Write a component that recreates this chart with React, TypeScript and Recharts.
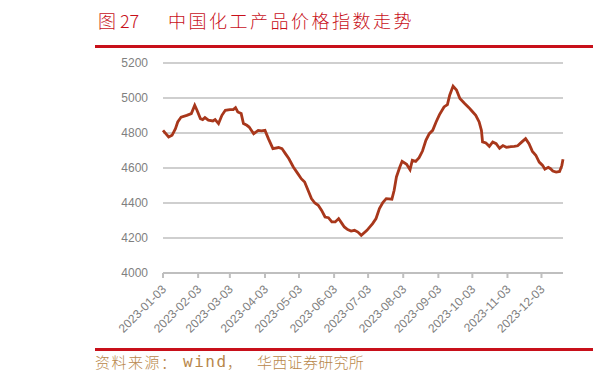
import { CartesianGrid, Line, LineChart, XAxis, YAxis } from "recharts";

// 中国化工产品价格指数 2023.

const dates = [
  "2023-01-03", "2023-01-08", "2023-01-11", "2023-01-14", "2023-01-16", "2023-01-19",
  "2023-01-24", "2023-01-28", "2023-01-31", "2023-02-02", "2023-02-05", "2023-02-07",
  "2023-02-09", "2023-02-12", "2023-02-16", "2023-02-18", "2023-02-21", "2023-02-24",
  "2023-02-27", "2023-03-03", "2023-03-06", "2023-03-08", "2023-03-10", "2023-03-13",
  "2023-03-15", "2023-03-18", "2023-03-20", "2023-03-24", "2023-03-28", "2023-03-31",
  "2023-04-03", "2023-04-06", "2023-04-10", "2023-04-15", "2023-04-18", "2023-04-21",
  "2023-04-24", "2023-04-28", "2023-05-02", "2023-05-05", "2023-05-08", "2023-05-11",
  "2023-05-14", "2023-05-17", "2023-05-20", "2023-05-23", "2023-05-26", "2023-05-29",
  "2023-06-01", "2023-06-04", "2023-06-07", "2023-06-10", "2023-06-12", "2023-06-15",
  "2023-06-18", "2023-06-21", "2023-06-24", "2023-06-27", "2023-07-02", "2023-07-04",
  "2023-07-07", "2023-07-10", "2023-07-13", "2023-07-16", "2023-07-19", "2023-07-24",
  "2023-07-26", "2023-07-28", "2023-07-31", "2023-08-02", "2023-08-06", "2023-08-09",
  "2023-08-11", "2023-08-14", "2023-08-17", "2023-08-20", "2023-08-23", "2023-08-26",
  "2023-08-29", "2023-09-01", "2023-09-04", "2023-09-08", "2023-09-11", "2023-09-13",
  "2023-09-16", "2023-09-19", "2023-09-22", "2023-09-26", "2023-09-30", "2023-10-02",
  "2023-10-06", "2023-10-09", "2023-10-11", "2023-10-12", "2023-10-15", "2023-10-18",
  "2023-10-21", "2023-10-24", "2023-10-27", "2023-10-30", "2023-11-02", "2023-11-06",
  "2023-11-09", "2023-11-12", "2023-11-15", "2023-11-19", "2023-11-22", "2023-11-25",
  "2023-11-28", "2023-12-01", "2023-12-04", "2023-12-06", "2023-12-09", "2023-12-11",
  "2023-12-13", "2023-12-16", "2023-12-19", "2023-12-21", "2023-12-22",
];

const indexValues = [
  4815, 4777, 4787, 4825, 4863, 4891,
  4901, 4911, 4958, 4930, 4882, 4877,
  4888, 4873, 4869, 4877, 4854, 4901,
  4930, 4934, 4934, 4945, 4920, 4911,
  4854, 4844, 4834, 4796, 4815, 4812,
  4815, 4768, 4711, 4717, 4711, 4682,
  4654, 4606, 4568, 4539, 4520, 4473,
  4425, 4400, 4387, 4358, 4320, 4316,
  4292, 4292, 4311, 4282, 4263, 4248,
  4240, 4244, 4234, 4215, 4244, 4259,
  4282, 4311, 4368, 4403, 4425, 4422,
  4473, 4549, 4606, 4638, 4621, 4590,
  4644, 4638, 4659, 4697, 4758, 4796,
  4815, 4863, 4905, 4949, 4962, 5016,
  5068, 5046, 4997, 4970, 4945, 4930,
  4901, 4863, 4815, 4749, 4743, 4724,
  4749, 4739, 4713, 4728, 4718, 4722,
  4724, 4727, 4745, 4768, 4739, 4695,
  4673, 4634, 4615, 4593, 4604, 4596,
  4583, 4577, 4580, 4615, 4650,
];

const xTickDates = [
  "2023-01-03", "2023-02-03", "2023-03-03", "2023-04-03", "2023-05-03", "2023-06-03",
  "2023-07-03", "2023-08-03", "2023-09-03", "2023-10-03", "2023-11-03", "2023-12-03",
];

const yTicks = [4000, 4200, 4400, 4600, 4800, 5000, 5200];

const data = dates.map((d, i) => ({ t: Date.parse(d), v: indexValues[i] }));
const xTicks = xTickDates.map((d) => Date.parse(d));

const fmtDate = (t: number) => new Date(t).toISOString().slice(0, 10);

const CJK = "'Noto Sans CJK SC', sans-serif";
const RED = "#c8101a";
const GOLD = "#b8874a";

function DateTick(props: any) {
  const { x, y, payload } = props;
  const tx = x + 4;
  const ty = y + 10;
  return (
    <text
      x={tx}
      y={ty}
      transform={`rotate(-45, ${tx}, ${ty})`}
      textAnchor="end"
      fontSize={12}
      fill="#7f7f7f"
      fontFamily="'Liberation Sans', Arial, sans-serif"
    >
      {fmtDate(payload.value)}
    </text>
  );
}

const abs = (left: number, top: number) => ({ position: "absolute" as const, left, top, whiteSpace: "pre" as const });

export default function App() {
  return (
    <div style={{ position: "absolute", left: 0, top: 0, width: 597, height: 382, background: "#fff" }}>
      {/* title */}
      <div style={{ ...abs(98, 8), fontSize: 18, fontWeight: 300, color: RED, fontFamily: CJK, lineHeight: "24px" }}>
        图 27
      </div>
      <div
        style={{
          ...abs(168, 8),
          fontSize: 18,
          fontWeight: 300,
          color: RED,
          fontFamily: CJK,
          lineHeight: "24px",
          letterSpacing: 2.5,
        }}
      >
        中国化工产品价格指数走势
      </div>
      <div style={{ position: "absolute", left: 95, top: 45, width: 498, height: 3, background: RED }} />

      <div style={{ position: "absolute", left: 0, top: 0 }}>
        <LineChart width={597} height={345} data={data} margin={{ top: 63, right: 34, left: 103, bottom: 12 }}>
          <CartesianGrid vertical={false} stroke="#bfbfbf" strokeWidth={1.5} />
          <XAxis
            dataKey="t"
            type="number"
            scale="time"
            domain={["dataMin", "dataMax"]}
            ticks={xTicks}
            tick={<DateTick />}
            interval={0}
            height={60}
            stroke="#bfbfbf"
            strokeWidth={2}
            tickSize={5}
          />
          <YAxis
            type="number"
            domain={[4000, 5200]}
            ticks={yTicks}
            width={60}
            axisLine={false}
            tickLine={false}
            tickSize={0}
            tickMargin={15}
            tick={{ fontSize: 12, fill: "#7f7f7f", fontFamily: "'Liberation Sans', Arial, sans-serif" }}
          />
          <Line
            dataKey="v"
            type="linear"
            stroke="#a8371b"
            strokeWidth={2.8}
            dot={false}
            isAnimationActive={false}
          />
        </LineChart>
      </div>

      {/* source */}
      <div style={{ position: "absolute", left: 95, top: 348, width: 498, height: 3, background: RED }} />
      <div style={{ ...abs(95, 352), fontSize: 15, fontWeight: 300, color: GOLD, fontFamily: CJK, lineHeight: "20px", letterSpacing: 1.5 }}>
        资料来源：
      </div>
      <div
        style={{
          ...abs(183, 352),
          fontSize: 16,
          color: GOLD,
          fontFamily: "'DejaVu Sans Mono', 'Liberation Mono', monospace",
          lineHeight: "20px",
          letterSpacing: 1.5,
        }}
      >
        wind
      </div>
      <div style={{ ...abs(227, 352), fontSize: 15, fontWeight: 300, color: GOLD, fontFamily: CJK, lineHeight: "20px" }}>
        ，
      </div>
      <div style={{ ...abs(257, 352), fontSize: 15, fontWeight: 300, color: GOLD, fontFamily: CJK, lineHeight: "20px", letterSpacing: 0.3 }}>
        华西证券研究所
      </div>
    </div>
  );
}
